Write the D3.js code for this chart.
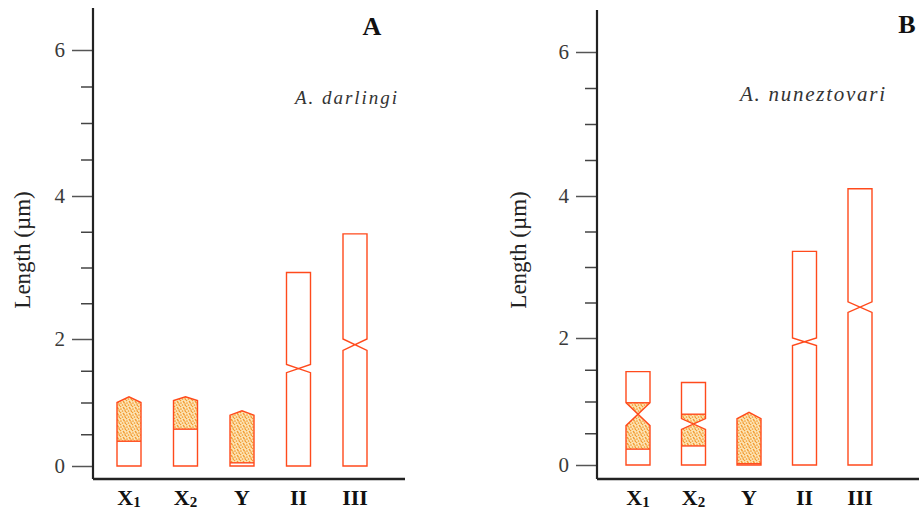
<!DOCTYPE html>
<html><head><meta charset="utf-8">
<script src="https://cdn.jsdelivr.net/npm/d3@7"></script>
<style>body{margin:0;background:#fff} svg{display:block}</style>
</head><body>
<script>
// ---- data ----
const categories = ["X1","X2","Y","II","III"];
const catMain = ["X","X","Y","II","III"];
const catSub  = ["1","2","","",""];
const yMajorTicks = [0,2,4,6];
const yMinorTicks = [0.5,1,1.5,2.5,3,3.5,4.5,5,5.5];

// A. darlingi (values in µm)
const aTop      = [1.09, 1.09, 0.87, 2.93, 3.47];
const aShoulder = [1.00, 1.03, 0.80, null, null];
const aCenUpper = [null, null, null, 1.60, 2.00];
const aCenLower = [null, null, null, 1.47, 1.82];
const aHetLow   = [0.39, 0.58, 0.05, null, null];
const aHetHigh  = [1.09, 1.09, 0.87, null, null];

// A. nuneztovari
const bTop      = [1.47, 1.30, 0.83, 3.22, 4.10];
const bShoulder = [null, null, 0.73, null, null];
const bCenUpper = [0.98, 0.73, null, 2.00, 2.51];
const bCenLower = [0.62, 0.56, null, 1.88, 2.36];
const bHetLow   = [0.25, 0.30, 0.02, null, null];
const bHetHigh  = [0.98, 0.80, 0.83, null, null];

// ---- layout ----
const W = 919, H = 512;
const svg = d3.select("body").append("svg").attr("width", W).attr("height", H);
const defs = svg.append("defs");
const pat = defs.append("pattern").attr("id","dots").attr("width",6).attr("height",6)
  .attr("patternUnits","userSpaceOnUse");
pat.append("rect").attr("width",6).attr("height",6).attr("fill","#fde6b8");
[[1,1],[4,0.5],[2.5,3],[5.5,3.5],[0.5,4.5],[3.5,5.5],[5,2]].forEach(([cx,cy]) =>
  pat.append("circle").attr("cx",cx).attr("cy",cy).attr("r",0.85).attr("fill","#f29a30"));

const RED = "#ff4a1c";
const serif = "'Liberation Serif','Times New Roman',serif";

const panels = [
  { id:"A", letter:"A", species:"A. darlingi",
    axisX:93, axisTop:8, axisBottom:479, xAxisEnd:405,
    yDomain:[0,2,4,6], yRange:[466,339,196,50], xRange:[129,355],
    letterX:372, letterY:35, spX:295, spY:104, spLen:102, spSize:19,
    ylabX:30, data:{top:aTop,shoulder:aShoulder,cenUpper:aCenUpper,cenLower:aCenLower,hetLow:aHetLow,hetHigh:aHetHigh}},
  { id:"B", letter:"B", species:"A. nuneztovari",
    axisX:597, axisTop:10, axisBottom:479, xAxisEnd:919,
    yDomain:[0,2,4,6], yRange:[465,338,196,52], xRange:[638,860],
    letterX:907, letterY:33, spX:740, spY:101, spLen:145, spSize:21,
    ylabX:526, data:{top:bTop,shoulder:bShoulder,cenUpper:bCenUpper,cenLower:bCenLower,hetLow:bHetLow,hetHigh:bHetHigh}}
];

panels.forEach(p => {
  const g = svg.append("g");
  const y = d3.scaleLinear().domain(p.yDomain).range(p.yRange);
  const x = d3.scalePoint().domain(categories).range(p.xRange);
  const bw = 24;

  const minor = g.append("g").attr("transform",`translate(${p.axisX},0)`)
    .call(d3.axisLeft(y).tickValues(yMinorTicks).tickSize(12).tickFormat(""));
  minor.select(".domain").remove();
  minor.selectAll("line").attr("stroke","#444").attr("stroke-width",1.5);
  const major = g.append("g").attr("transform",`translate(${p.axisX},0)`)
    .call(d3.axisLeft(y).tickValues(yMajorTicks).tickSize(21).tickPadding(7).tickFormat(d3.format("d")));
  major.select(".domain").remove();
  major.selectAll("line").attr("stroke","#555").attr("stroke-width",1.5);
  major.selectAll("text").attr("font-family",serif).attr("font-size",21).attr("fill","#3a3a3a");

  g.append("line").attr("x1",p.axisX).attr("x2",p.axisX).attr("y1",p.axisTop).attr("y2",p.axisBottom)
    .attr("stroke","#222").attr("stroke-width",2.2);
  g.append("line").attr("x1",p.axisX).attr("x2",p.xAxisEnd).attr("y1",p.axisBottom).attr("y2",p.axisBottom)
    .attr("stroke","#222").attr("stroke-width",2.5);

  g.append("text").attr("transform",`translate(${p.ylabX},250) rotate(-90)`)
    .attr("text-anchor","middle").attr("font-family",serif).attr("font-size",23).attr("fill","#222")
    .text("Length (µm)");

  g.append("text").attr("x",p.letterX).attr("y",p.letterY).attr("text-anchor","middle")
    .attr("font-family",serif).attr("font-weight","bold").attr("font-size",26).attr("fill","#111").text(p.letter);
  g.append("text").attr("x",p.spX).attr("y",p.spY).attr("font-family",serif).attr("font-style","italic")
    .attr("font-size",p.spSize).attr("fill","#333").attr("textLength",p.spLen).attr("lengthAdjust","spacing")
    .text(p.species);

  categories.forEach((c,i) => {
    const t = g.append("text").attr("x",x(c)).attr("y",505).attr("text-anchor","middle")
      .attr("font-family",serif).attr("font-weight","bold").attr("font-size",22).attr("fill","#111");
    t.append("tspan").text(catMain[i]);
    if (catSub[i]) t.append("tspan").attr("font-size",15).attr("dy",2).text(catSub[i]);
  });

  const d = p.data;
  categories.forEach((c,i) => {
    const cx = x(c), L = cx - bw/2, R = cx + bw/2;
    const y0 = y(0), yt = y(d.top[i]);
    let pts;
    if (d.cenUpper[i] != null) {
      const yu = y(d.cenUpper[i]), yl = y(d.cenLower[i]);
      pts = [[L,y0],[R,y0],[R,yl],[L,yu],[L,yt],[R,yt],[R,yu],[L,yl]];
    } else {
      const ys = y(d.shoulder[i]);
      pts = [[L,y0],[R,y0],[R,ys],[cx,yt],[L,ys]];
    }
    const pathStr = d3.line()(pts) + "Z";
    const cid = `clip-${p.id}-${i}`;
    defs.append("clipPath").attr("id",cid).append("path").attr("d",pathStr);
    g.append("path").attr("d",pathStr).attr("fill","#fff");
    if (d.hetLow[i] != null) {
      g.append("rect").attr("x",L-2).attr("width",bw+4)
        .attr("y",y(d.hetHigh[i])).attr("height",y(d.hetLow[i]) - y(d.hetHigh[i]))
        .attr("fill","url(#dots)").attr("clip-path",`url(#${cid})`);
      g.append("line").attr("x1",L).attr("x2",R).attr("y1",y(d.hetLow[i])).attr("y2",y(d.hetLow[i]))
        .attr("stroke",RED).attr("stroke-width",1.4);
      if (d.hetHigh[i] < d.top[i] - 0.01)
        g.append("line").attr("x1",L).attr("x2",R).attr("y1",y(d.hetHigh[i])).attr("y2",y(d.hetHigh[i]))
          .attr("stroke",RED).attr("stroke-width",1.4);
    }
    g.append("path").attr("d",pathStr).attr("fill","none").attr("stroke",RED).attr("stroke-width",1.4)
      .attr("stroke-linejoin","miter");
  });
});
</script>
</body></html>
